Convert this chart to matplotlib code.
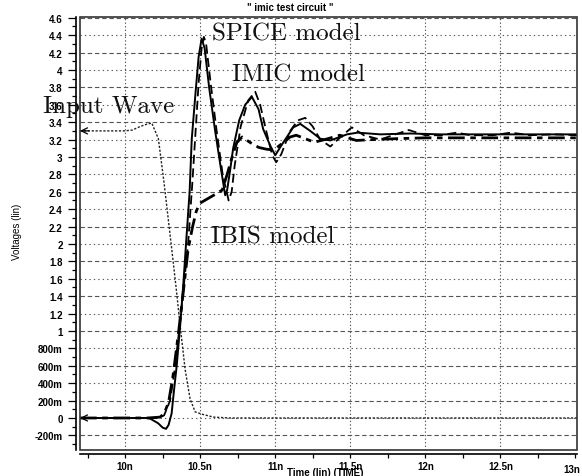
import matplotlib
matplotlib.use("Agg")
import matplotlib.pyplot as plt
from matplotlib.patches import Rectangle
from matplotlib.ticker import FixedLocator, MultipleLocator

# ---------------- data (time in ns, voltage in V) ----------------
spice_t = [9.70, 10.15, 10.17, 10.22, 10.25, 10.273, 10.29, 10.31, 10.325, 10.344, 10.367,
           10.389, 10.41, 10.43, 10.444, 10.47, 10.49, 10.51, 10.53, 10.56, 10.60, 10.64,
           10.667, 10.68, 10.70, 10.72, 10.76, 10.80, 10.845, 10.889, 10.92, 10.967, 11.0,
           11.055, 11.12, 11.167, 11.233, 11.30, 11.367, 11.478, 11.55, 11.7, 11.9, 12.1,
           12.4, 12.7, 13.01]
spice_v = [0.0, 0.0, -0.01, -0.06, -0.11, -0.125, -0.08, 0.05, 0.30, 0.60, 1.06,
           1.56, 2.10, 2.60, 3.20, 3.75, 4.15, 4.36, 4.25, 3.80, 3.30, 2.85,
           2.56, 2.62, 2.85, 3.10, 3.42, 3.60, 3.69, 3.55, 3.32, 3.13, 3.02,
           3.17, 3.34, 3.38, 3.30, 3.21, 3.19, 3.26, 3.28, 3.26, 3.27, 3.26,
           3.26, 3.26, 3.26]

imic_t = [9.70, 10.22, 10.26, 10.30, 10.33, 10.36, 10.39, 10.42, 10.45, 10.47, 10.49,
          10.51, 10.525, 10.54, 10.57, 10.61, 10.65, 10.69, 10.71, 10.73, 10.77, 10.82,
          10.867, 10.90, 10.94, 10.98, 11.007, 11.04, 11.10, 11.15, 11.20, 11.25, 11.30,
          11.367, 11.43, 11.51, 11.59, 11.70, 11.80, 11.89, 12.0, 12.1, 12.21, 12.3,
          12.45, 12.57, 12.7, 12.85, 13.01]
imic_v = [0.0, 0.0, 0.03, 0.20, 0.55, 1.00, 1.50, 2.00, 2.75, 3.30, 3.85,
          4.25, 4.38, 4.30, 3.85, 3.30, 2.80, 2.50, 2.60, 2.90, 3.35, 3.65,
          3.75, 3.60, 3.30, 3.02, 2.94, 3.03, 3.30, 3.42, 3.45, 3.35, 3.20,
          3.12, 3.22, 3.34, 3.25, 3.20, 3.26, 3.31, 3.25, 3.25, 3.28, 3.25,
          3.25, 3.28, 3.25, 3.26, 3.25]

ibis_t = [9.70, 10.15, 10.233, 10.26, 10.29, 10.32, 10.356, 10.39, 10.42, 10.45, 10.475,
          10.50, 10.55, 10.60, 10.647, 10.68, 10.713, 10.745, 10.78, 10.83, 10.89, 10.94,
          10.99, 11.05, 11.10, 11.14, 11.20, 11.26, 11.33, 11.43, 11.54, 11.65, 11.8,
          12.0, 12.5, 13.01]
ibis_v = [0.0, 0.0, 0.01, 0.05, 0.18, 0.49, 0.98, 1.48, 1.94, 2.20, 2.38,
          2.47, 2.52, 2.57, 2.62, 2.80, 3.00, 3.17, 3.23, 3.17, 3.11, 3.09,
          3.08, 3.16, 3.23, 3.25, 3.21, 3.17, 3.20, 3.25, 3.19, 3.20, 3.21,
          3.22, 3.22, 3.22]

input_t = [9.70, 10.0, 10.05, 10.10, 10.15, 10.178, 10.222, 10.26, 10.311, 10.34, 10.367,
           10.40, 10.433, 10.467, 10.52, 10.59, 10.7, 13.01]
input_v = [3.30, 3.30, 3.31, 3.35, 3.38, 3.39, 3.21, 2.70, 1.94, 1.50, 1.06,
           0.56, 0.22, 0.07, 0.04, 0.01, 0.0, 0.0]

y_ticks = [-0.2, 0.0, 0.2, 0.4, 0.6, 0.8, 1.0, 1.2, 1.4, 1.6, 1.8, 2.0, 2.2, 2.4,
           2.6, 2.8, 3.0, 3.2, 3.4, 3.6, 3.8, 4.0, 4.2, 4.4, 4.6]
y_labels = ["-200m", "0", "200m", "400m", "600m", "800m", "1", "1.2", "1.4", "1.6",
            "1.8", "2", "2.2", "2.4", "2.6", "2.8", "3", "3.2", "3.4", "3.6", "3.8",
            "4", "4.2", "4.4", "4.6"]
x_ticks = [10.0, 10.5, 11.0, 11.5, 12.0, 12.5, 13.0]
x_labels = ["10n", "10.5n", "11n", "11.5n", "12n", "12.5n", "13n"]

annotations = [("SPICE model", 10.58, 4.345),
               ("IMIC model", 10.713, 3.88),
               ("Input Wave", 9.451, 3.517),
               ("IBIS model", 10.57, 2.017)]

# ---------------- figure ----------------
fig = plt.figure(figsize=(5.82, 4.77), dpi=100)
ax = fig.add_axes([80 / 582, 26 / 477, 497 / 582, 433 / 477])
ax.set_xlim(9.7, 13.01)
ax.set_ylim(-0.368, 4.609)

grid_c = "#555555"
for i, yv in enumerate(y_ticks):
    if i % 2 == 0:
        ax.axhline(yv, color=grid_c, lw=0.8, dashes=(4, 2.5), zorder=1)
    else:
        ax.axhline(yv, color=grid_c, lw=0.8, dashes=(1.2, 2.8), zorder=1)
for xv in x_ticks[:-1]:
    ax.axvline(xv, color=grid_c, lw=0.8, dashes=(1.2, 2.0), zorder=1)

ax.plot(input_t, input_v, color="#222222", lw=1.0, dashes=(1.6, 1.2), zorder=3)
ax.plot(ibis_t, ibis_v, color="black", lw=2.0, dashes=(6, 2, 2, 2), zorder=4)
ax.plot(imic_t, imic_v, color="black", lw=1.3, dashes=(5, 2.5), zorder=5)
ax.plot(spice_t, spice_v, color="black", lw=1.4, zorder=6)

# left-edge markers
for yv in (3.3, 0.0):
    ax.annotate("", xy=(9.70, yv), xytext=(9.76, yv),
                arrowprops=dict(arrowstyle="->", lw=0.9, color="black",
                                mutation_scale=11, shrinkA=0, shrinkB=0),
                zorder=7)

for txt, tx, ty in annotations:
    ax.text(tx, ty, txt, family="cmr10", fontsize=18, ha="left", va="baseline",
            color="#111111", clip_on=False, zorder=8)

# frame
ax.add_patch(Rectangle((0, 0), 1, 1, transform=ax.transAxes, fill=False,
                       lw=1.2, edgecolor="#333333", zorder=9, clip_on=False))

for s in ("top", "right"):
    ax.spines[s].set_visible(False)
ax.spines["left"].set_position(("outward", 3))
ax.spines["bottom"].set_position(("outward", 3))
ax.spines["left"].set_linewidth(1.2)
ax.spines["bottom"].set_linewidth(1.2)

ax.yaxis.set_major_locator(FixedLocator(y_ticks))
ax.set_yticklabels(y_labels)
ax.yaxis.set_minor_locator(MultipleLocator(0.1))
ax.xaxis.set_major_locator(FixedLocator(x_ticks))
ax.set_xticklabels(x_labels[:-1] + [""])
ax.xaxis.set_minor_locator(MultipleLocator(0.25))

ax.tick_params(axis="y", which="major", direction="out", length=6, width=0.9, pad=3.5,
               labelsize=7)
ax.tick_params(axis="y", which="minor", direction="out", length=3, width=0.9)
ax.tick_params(axis="x", which="major", direction="out", length=3, width=0.9, pad=2,
               labelsize=7)
ax.tick_params(axis="x", which="minor", direction="out", length=3, width=0.9)
for lab in ax.get_xticklabels() + ax.get_yticklabels():
    lab.set_fontweight("bold")
    lab.set_family("Liberation Sans")

fig.text(572 / 582, 1 - 470 / 477, x_labels[-1], fontsize=7, fontweight="bold",
         family="Liberation Sans", ha="center", va="center")
fig.text(17 / 582, 1 - 232 / 477, "Voltages (lin)", rotation=90, fontsize=7,
         family="Liberation Sans", ha="center", va="center")
fig.text(325 / 582, 1 - 473 / 477, "Time (lin) (TIME)", fontsize=7, fontweight="bold",
         family="Liberation Sans", ha="center", va="center")
fig.text(290 / 582, 1 - 8 / 477, '" imic test circuit "', fontsize=7, fontweight="bold",
         family="Liberation Sans", ha="center", va="center")

fig.savefig("out.png", dpi=100, facecolor="white")
